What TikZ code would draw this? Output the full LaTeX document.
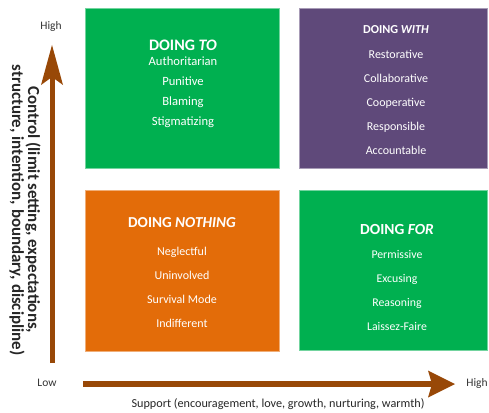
\documentclass[tikz,border=0pt]{standalone}
\usepackage{fontspec}
\setmainfont{Carlito}
\usetikzlibrary{arrows.meta}
\definecolor{dogreen}{RGB}{0,176,80}
\definecolor{dopurple}{RGB}{95,73,122}
\definecolor{doorange}{RGB}{227,108,9}
\definecolor{axisbrown}{RGB}{152,72,7}
\begin{document}
\begin{tikzpicture}[x=1pt,y=-1pt,
  quad/.style={draw=#1!55!white,fill=#1,line width=0.6pt,inner sep=0pt},
  head/.style={text=white,font=\bfseries\fontsize{#1}{#1}\selectfont,inner sep=0pt},
  item/.style={text=white,font=\fontsize{#1}{#1}\selectfont,inner sep=0pt,text height=9pt,text depth=3pt},
  axistext/.style={font=\fontsize{11.5}{12}\selectfont,text=black!80,inner sep=0pt}]
	\useasboundingbox (0,0) rectangle (489,412);

	\node[quad=dogreen,minimum width=194pt,minimum height=160pt] (to) at (182,88) {};
	\node[quad=dopurple,minimum width=188pt,minimum height=160pt] (with) at (393,88) {};
	\node[quad=doorange,minimum width=194pt,minimum height=161pt] (nothing) at (182,270.5) {};
	\node[quad=dogreen,minimum width=188pt,minimum height=160pt] (for) at (393,270) {};

	\node[head=16] (tohead) at (183,45) {DOING \textit{TO}};
	\foreach \w [count=\i] in {Authoritarian,Punitive,Blaming,Stigmatizing}
		\node[item=12.6] (to\i) at (183,42+20*\i) {\w};

	\node[head=12.2] (withhead) at (396,30) {DOING \textit{WITH}};
	\foreach \w [count=\i] in {Restorative,Collaborative,Cooperative,Responsible,Accountable}
		\node[item=12] (with\i) at (396,31+24*\i) {\w};

	\node[head=15.2] (nothinghead) at (182,223) {DOING \textit{NOTHING}};
	\foreach \w [count=\i] in {Neglectful,Uninvolved,Survival Mode,Indifferent}
		\node[item=12] (nothing\i) at (182,228+24*\i) {\w};

	\node[head=15.4] (forhead) at (397,229) {DOING \textit{FOR}};
	\foreach \w [count=\i] in {Permissive,Excusing,Reasoning,Laissez-Faire}
		\node[item=11.8] (for\i) at (397,231+24*\i) {\w};

	\coordinate (vlow) at (52,363);
	\coordinate (vhigh) at (52,45);
	\draw[axisbrown,line width=5pt,-{Stealth[length=40pt,width=22pt,inset=8pt,line width=0pt]}] (vlow) -- (vhigh);
	\coordinate (hlow) at (83,384);
	\coordinate (hhigh) at (455,384);
	\draw[axisbrown,line width=6pt,-{Stealth[length=27pt,width=27pt,inset=4pt,line width=0pt]}] (hlow) -- (hhigh);

	\node[axistext] (ctrlhigh) at (51,26) {High};
	\node[axistext] (ctrllow) at (47,383) {Low};
	\node[axistext] (supphigh) at (477,383) {High};
	\node[font=\fontsize{12.2}{13}\selectfont,text=black!85,inner sep=0pt] (support) at (278,404) {Support (encouragement, love, growth, nurturing, warmth)};
	\node[rotate=-90,align=center,font=\bfseries\fontsize{16.9}{16}\selectfont,text=black!85,inner sep=0pt] (control) at (25,210)
		{Control (limit setting, expectations,\\structure, intention, boundary, discipline)};
\end{tikzpicture}
\end{document}
